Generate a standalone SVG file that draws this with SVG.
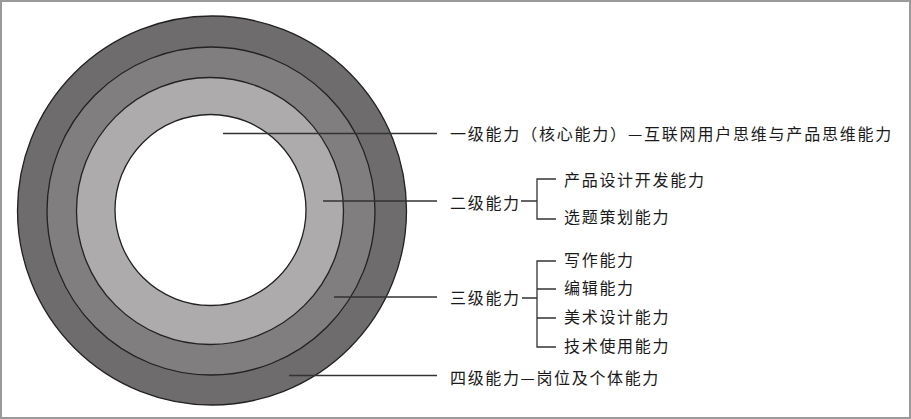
<svg xmlns="http://www.w3.org/2000/svg" width="911" height="419" viewBox="0 0 911 419">
<style>
.ring{stroke:#222;stroke-width:1.3}
.lbl{font-family:"Noto Sans CJK SC","Noto Sans CJK JP",sans-serif;font-size:16px;fill:#1a1a1a;letter-spacing:1.7px}
.ln{stroke:#333;stroke-width:1.3;fill:none}
</style>
<rect x="1" y="1" width="909" height="417" fill="#fff" stroke="#9a9a9a" stroke-width="2"/>
<g id="rings">
<circle id="ring4" class="ring" cx="212" cy="210.5" r="194.5" fill="#6e6c6d"/>
<circle id="ring3" class="ring" cx="211" cy="211" r="164" fill="#807e7f"/>
<circle id="ring2" class="ring" cx="210" cy="211" r="133.5" fill="#adabac"/>
<circle id="ring1" class="ring" cx="210.5" cy="210" r="95.5" fill="#fff"/>
</g>
<g id="connectors">
<line class="ln" x1="223" y1="133.5" x2="437" y2="133.5"/>
<line class="ln" x1="323" y1="201" x2="437" y2="201"/>
<line class="ln" x1="334" y1="297" x2="437" y2="297"/>
<line class="ln" x1="289" y1="375.5" x2="437" y2="375.5"/>
<path class="ln" d="M521 201H537M556 179H537V219H556"/>
<path class="ln" d="M522 298H537M556 261H537V347H556M537 289H556M537 318H556"/>
</g>
<g id="level1"><text class="lbl" x="450" y="140" textLength="443" lengthAdjust="spacing">一级能力（核心能力）—互联网用户思维与产品思维能力</text></g>
<g id="level2"><text class="lbl" x="450" y="208.5">二级能力</text></g>
<g id="level2a"><text class="lbl" x="564" y="186">产品设计开发能力</text></g>
<g id="level2b"><text class="lbl" x="564" y="222.5">选题策划能力</text></g>
<g id="level3"><text class="lbl" x="450" y="304">三级能力</text></g>
<g id="level3a"><text class="lbl" x="564" y="265.5">写作能力</text></g>
<g id="level3b"><text class="lbl" x="564" y="294">编辑能力</text></g>
<g id="level3c"><text class="lbl" x="564" y="323">美术设计能力</text></g>
<g id="level3d"><text class="lbl" x="564" y="351.5">技术使用能力</text></g>
<g id="level4"><text class="lbl" x="450" y="384" textLength="210" lengthAdjust="spacing">四级能力—岗位及个体能力</text></g>
</svg>
